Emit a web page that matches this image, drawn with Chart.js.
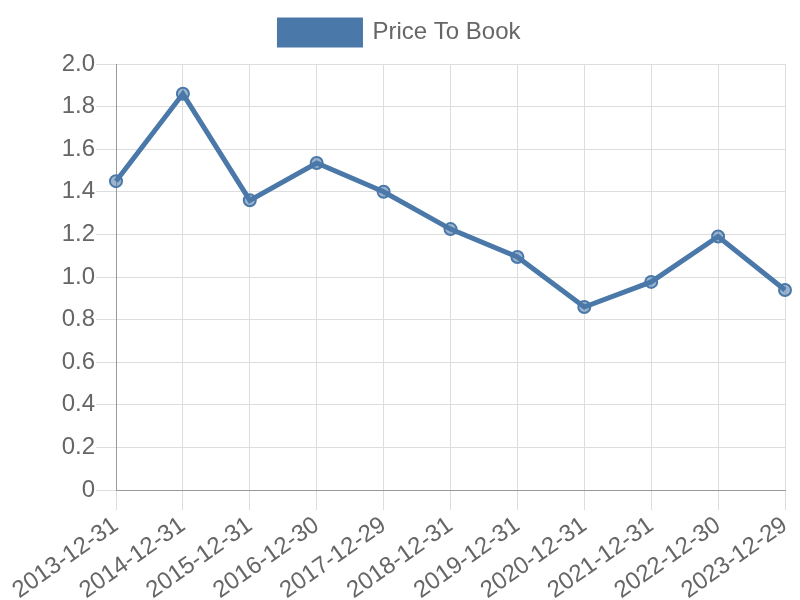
<!DOCTYPE html>
<html>
<head>
<meta charset="utf-8">
<script src="https://cdn.jsdelivr.net/npm/chart.js@4"></script>
<style>
  body { margin: 0; background: #fff; }
  #wrap { width: 800px; height: 600px; }
</style>
</head>
<body>
<div id="wrap"><canvas id="grafico"></canvas></div>
<script>
var datas = ['2013-12-31', '2014-12-31', '2015-12-31', '2016-12-30', '2017-12-29', '2018-12-31',
             '2019-12-31', '2020-12-31', '2021-12-31', '2022-12-30', '2023-12-29']
var valores = [1.45, 1.86, 1.36, 1.535, 1.40, 1.225, 1.094, 0.859, 0.977, 1.19, 0.939]
var cor = 'rgb(74, 120, 168)'

Chart.defaults.font.family = '"Liberation Sans", Arial, sans-serif'
Chart.defaults.font.size = 24
Chart.defaults.color = '#666'

// espaco extra abaixo da legenda
var legendaEspaco = {
    id: 'legendaEspaco',
    beforeInit: function(chart) {
        var fitOriginal = chart.legend.fit
        chart.legend.fit = function() {
            fitOriginal.bind(chart.legend)()
            this.height += 9
        }
    }
}

var ctx = document.getElementById('grafico').getContext('2d')
var chart = new Chart(ctx, {
    type: 'line',
    data: {
        labels: datas,
        datasets: [{
            label: 'Price To Book',
            data: valores,
            borderColor: cor,
            backgroundColor: cor,
            borderWidth: 5,
            pointRadius: 6,
            pointBorderWidth: 2,
            pointBackgroundColor: 'rgba(74, 120, 168, 0.55)',
            pointBorderColor: cor,
            tension: 0,
            fill: false
        }]
    },
    options: {
        responsive: true,
        maintainAspectRatio: false,
        animation: false,
        layout: { padding: 0 },
        plugins: {
            legend: {
                labels: {
                    boxWidth: 81,
                    boxHeight: 25,
                    font: { size: 24 },
                    padding: 20
                }
            },
            tooltip: { enabled: false }
        },
        scales: {
            x: {
                grid: { color: '#ddd', tickLength: 20 },
                border: { color: '#999' },
                ticks: { maxRotation: 35, minRotation: 35, autoSkip: false, padding: 1 },
                afterFit: function(s) {
                    s.height = 110
                    s.paddingRight = 15
                }
            },
            y: {
                min: 0,
                max: 2,
                grid: { color: '#ddd', tickLength: 20 },
                border: { color: '#999' },
                ticks: {
                    stepSize: 0.2,
                    padding: 1,
                    callback: function(v) { return v === 0 ? '0' : v.toFixed(1) }
                },
                afterFit: function(s) { s.width = 116 }
            }
        }
    },
    plugins: [legendaEspaco]
})
</script>
</body>
</html>
